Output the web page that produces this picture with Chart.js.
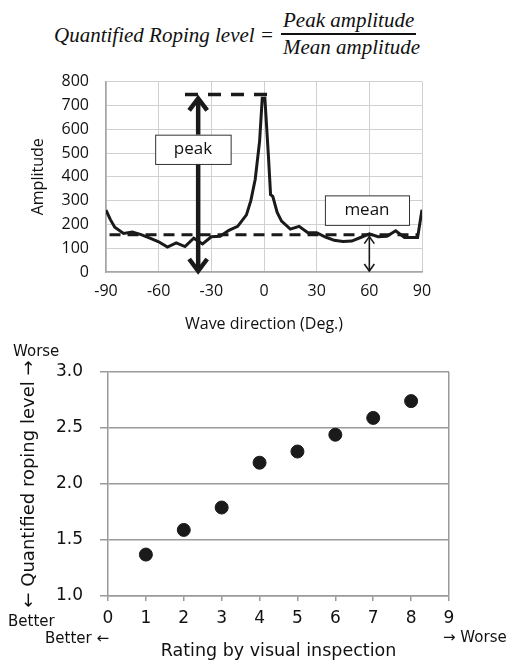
<!DOCTYPE html>
<html>
<head>
<meta charset="utf-8">
<script src="https://cdn.jsdelivr.net/npm/chart.js@4.4.0/dist/chart.umd.min.js"></script>
<style>
body { margin: 0; width: 512px; height: 664px; background: #fff; position: relative; overflow: hidden; }
.math { position: absolute; font-family: "Liberation Serif", serif; font-style: italic; font-size: 21px; line-height: 24px; color: #111; white-space: nowrap; }
.note { position: absolute; font-family: "DejaVu Sans", sans-serif; font-size: 15px; line-height: 18px; color: #111; white-space: nowrap; }
#fracBar { position: absolute; left: 281px; top: 33px; width: 135px; height: 1.5px; background: #111; }
</style>
</head>
<body>
<div class="math" style="left:54px; top:23px;">Quantified Roping level =</div>
<div class="math" style="left:283px; top:8px;">Peak amplitude</div>
<div id="fracBar"></div>
<div class="math" style="left:283px; top:35px;">Mean amplitude</div>

<div style="position:absolute; left:0; top:55px; width:512px; height:280px;"><canvas id="waveChart"></canvas></div>
<div style="position:absolute; left:0; top:335px; width:512px; height:329px;"><canvas id="ratingChart"></canvas></div>

<div class="note" style="left:13px; top:342px;">Worse</div>
<div class="note" style="left:8px; top:612px;">Better</div>
<div class="note" style="left:45px; top:629px;">Better ←</div>
<div class="note" style="left:443px; top:628px;">→ Worse</div>

<script>
// Obere Grafik: Amplitude über Wellenrichtung
var waveDirection = [-90, -87.5, -85, -80, -75, -70, -65, -60, -55, -50, -45, -40, -35, -30, -25, -20, -15, -10, -7.5, -5, -2.5, -1, 0.5, 2.5, 3.75, 5, 7.5, 10, 15, 20, 25, 30, 35, 40, 45, 50, 55, 60, 65, 70, 75, 80, 85, 87.5, 90];
var amplitude = [260, 220, 188, 162, 168, 157, 142, 127, 105, 122, 107, 142, 118, 148, 150, 175, 192, 240, 300, 390, 550, 730, 730, 490, 325, 318, 250, 214, 180, 192, 165, 165, 147, 133, 128, 130, 145, 160, 148, 150, 173, 145, 145, 145, 262];

var peakValue = 746;
var meanValue = 157;
var peakDashFrom = -45, peakDashTo = 4;
var meanDashFrom = -88, meanDashTo = 88;
var peakArrowAt = -37.5;
var meanArrowAt = 60;

// Untere Grafik: Bewertung vs. quantifiziertes Roping
var rating = [1, 2, 3, 4, 5, 6, 7, 8];
var ropingLevel = [1.37, 1.59, 1.79, 2.19, 2.29, 2.44, 2.59, 2.74];

var waveFont = "'Open Sans', sans-serif";
var ratingFont = "'DejaVu Sans', sans-serif";

function toPoints(xs, ys) {
    return xs.map(function (x, i) { return { x: x, y: ys[i] }; });
}

function arrowHead(ctx, x, y, dir, w, h) {
    // dir: -1 = Spitze nach oben, 1 = Spitze nach unten
    ctx.beginPath();
    ctx.moveTo(x - w, y - dir * h);
    ctx.lineTo(x, y);
    ctx.lineTo(x + w, y - dir * h);
    ctx.stroke();
}

function labelBox(ctx, xs, ys, x1, y1, x2, y2, text) {
    var l = xs.getPixelForValue(x1), r = xs.getPixelForValue(x2);
    var t = ys.getPixelForValue(y1), b = ys.getPixelForValue(y2);
    ctx.fillStyle = '#fff';
    ctx.fillRect(l, t, r - l, b - t);
    ctx.strokeStyle = '#333';
    ctx.lineWidth = 1;
    ctx.strokeRect(l + 0.5, t + 0.5, r - l, b - t);
    ctx.fillStyle = '#111';
    ctx.font = "17px " + waveFont;
    ctx.textAlign = 'center';
    ctx.textBaseline = 'middle';
    ctx.fillText(text, (l + r) / 2, (t + b) / 2);
}

var annotations = {
    id: 'annotations',
    afterDatasetsDraw: function (chart) {
        var ctx = chart.ctx;
        var xs = chart.scales.x, ys = chart.scales.y;
        ctx.save();
        ctx.strokeStyle = '#1a1a1a';
        ctx.lineJoin = 'miter';

        // dicker Doppelpfeil "peak"
        var px = xs.getPixelForValue(peakArrowAt);
        var top = ys.getPixelForValue(peakValue) + 4;
        var bottom = ys.getPixelForValue(0) - 1;
        ctx.lineWidth = 4.5;
        ctx.beginPath();
        ctx.moveTo(px, top + 2);
        ctx.lineTo(px, bottom - 2);
        ctx.stroke();
        arrowHead(ctx, px, top, -1, 9, 12);
        arrowHead(ctx, px, bottom, 1, 9, 12);

        // dünner Doppelpfeil "mean"
        var mx = xs.getPixelForValue(meanArrowAt);
        var mTop = ys.getPixelForValue(meanValue) + 2;
        var mBottom = ys.getPixelForValue(0) - 1;
        ctx.lineWidth = 1.6;
        ctx.beginPath();
        ctx.moveTo(mx, mTop);
        ctx.lineTo(mx, mBottom);
        ctx.stroke();
        arrowHead(ctx, mx, mTop, -1, 5, 7);
        arrowHead(ctx, mx, mBottom, 1, 5, 7);

        labelBox(ctx, xs, ys, -62, 577, -19, 454, 'peak');
        labelBox(ctx, xs, ys, 34.7, 322, 82.6, 198, 'mean');
        ctx.restore();
    }
};

new Chart(document.getElementById('waveChart'), {
    type: 'scatter',
    data: {
        datasets: [{
            data: toPoints(waveDirection, amplitude),
            showLine: true,
            borderColor: '#1a1a1a',
            borderWidth: 3,
            pointRadius: 0,
            tension: 0
        }, {
            data: [{ x: peakDashFrom, y: peakValue }, { x: peakDashTo, y: peakValue }],
            showLine: true,
            borderColor: '#1a1a1a',
            borderWidth: 3.5,
            borderDash: [13, 10],
            pointRadius: 0
        }, {
            data: [{ x: meanDashFrom, y: meanValue }, { x: meanDashTo, y: meanValue }],
            showLine: true,
            borderColor: '#1a1a1a',
            borderWidth: 3,
            borderDash: [11, 7],
            pointRadius: 0
        }]
    },
    options: {
        responsive: true,
        maintainAspectRatio: false,
        animation: false,
        layout: { padding: { top: 23, right: 90, left: 0, bottom: 0 } },
        plugins: { legend: { display: false }, tooltip: { enabled: false } },
        scales: {
            x: {
                type: 'linear',
                min: -90,
                max: 90,
                ticks: { stepSize: 30, color: '#111', padding: 10, font: { family: waveFont, size: 16 } },
                grid: { color: '#d0d0d0', lineWidth: 1, drawTicks: false },
                border: { color: '#a6a6a6', width: 1.5 },
                title: { display: true, text: 'Wave direction (Deg.)', color: '#111', font: { family: waveFont, size: 16 }, padding: { top: 0, bottom: 1 } },
                afterFit: function (scale) { scale.height = 63; }
            },
            y: {
                min: 0,
                max: 800,
                ticks: { stepSize: 100, color: '#111', padding: 17, font: { family: waveFont, size: 16 } },
                grid: { color: '#d0d0d0', lineWidth: 1, drawTicks: false },
                border: { color: '#a6a6a6', width: 1.5 },
                title: { display: true, text: 'Amplitude', color: '#111', font: { family: waveFont, size: 16 }, padding: { top: 29, bottom: 0 } },
                afterFit: function (scale) { scale.width = 106; }
            }
        }
    },
    plugins: [annotations]
});

new Chart(document.getElementById('ratingChart'), {
    type: 'scatter',
    data: {
        datasets: [{
            data: toPoints(rating, ropingLevel),
            backgroundColor: '#1a1a1a',
            borderColor: '#1a1a1a',
            pointRadius: 6.5,
            pointHoverRadius: 6.5
        }]
    },
    options: {
        responsive: true,
        maintainAspectRatio: false,
        animation: false,
        layout: { padding: { top: 37, right: 63, left: 0, bottom: 0 } },
        plugins: { legend: { display: false }, tooltip: { enabled: false } },
        scales: {
            x: {
                type: 'linear',
                min: 0,
                max: 9,
                ticks: { stepSize: 1, color: '#111', padding: 7, font: { family: ratingFont, size: 17 } },
                grid: {
                    // nur der rechte Rahmen bei 9
                    color: function (c) { return c.tick && c.tick.value === 9 ? '#9a9a9a' : 'rgba(0,0,0,0)'; },
                    lineWidth: 1.5,
                    tickColor: '#9a9a9a',
                    tickLength: 5
                },
                border: { color: '#9a9a9a', width: 1.5 },
                title: { display: true, text: 'Rating by visual inspection', color: '#111', font: { family: ratingFont, size: 17.5 }, padding: { top: 0, bottom: 2 } },
                afterFit: function (scale) { scale.height = 68; }
            },
            y: {
                min: 1,
                max: 3,
                ticks: {
                    stepSize: 0.5,
                    color: '#111',
                    padding: 17,
                    font: { family: ratingFont, size: 17 },
                    callback: function (v) { return v.toFixed(1); }
                },
                grid: { color: '#9a9a9a', lineWidth: 1.5, tickColor: '#9a9a9a', tickLength: 8 },
                border: { color: '#9a9a9a', width: 1.5 },
                // Text ist gedreht: ← zeigt nach unten, → nach oben
                title: { display: true, text: '← Quantified roping level →', color: '#111', font: { family: ratingFont, size: 18 }, padding: { top: 19, bottom: 0 } },
                afterFit: function (scale) { scale.width = 108; }
            }
        }
    }
});
</script>
</body>
</html>
